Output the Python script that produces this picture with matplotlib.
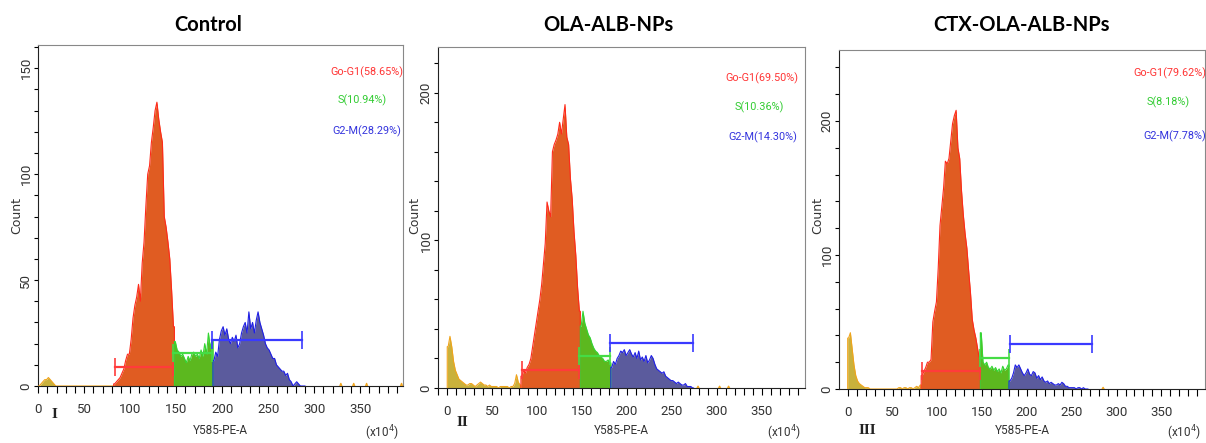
import matplotlib
matplotlib.use("Agg")
import matplotlib.pyplot as plt
import numpy as np
from matplotlib.ticker import MultipleLocator

# ── values (bins of 2 channels) ──
titles = ["Control", "OLA-ALB-NPs", "CTX-OLA-ALB-NPs"]
panel_tags = ["I", "II", "III"]
phase_names = ["Go-G1", "S", "G2-M"]

ctrl_pct = ["58.65", "10.94", "28.29"]
ola_pct = ["69.50", "10.36", "14.30"]
ctx_pct = ["79.62", "8.18", "7.78"]

# counts per bin, starting at channel 0
ctrl_counts = [
    0, 1, 2, 3, 3, 4, 3, 2, 1, 0,
    0, 0, 0, 0, 0, 0, 0, 0, 0, 0,
    0, 0, 0, 0, 0, 0, 0, 0, 0, 0,
    0, 0, 0, 0, 0, 0, 0, 0, 0, 0,
    0, 1, 2, 3, 4, 6, 8, 12, 15, 15,
    22, 32, 38, 42, 48, 40, 58, 68, 85, 100,
    104, 115, 122, 130, 134, 126, 120, 115, 80, 75,
    68, 60, 45, 28,
    21, 17, 16, 14, 15, 13, 11, 14, 12, 15, 16, 14, 15, 13, 17, 14, 20, 15, 25, 18, 22,
    12, 16, 14, 22, 26, 28, 24, 27, 22, 20, 23, 21, 24, 18, 20, 25, 28, 30, 25, 35,
    27, 30, 25, 31, 35, 30, 27, 24, 20, 18, 17, 15, 13, 13, 10, 9, 8, 7, 7, 5,
    6, 3, 2, 0, 1, 2, 1, 0, 0, 0,
]
ola_counts = [
    28, 35, 28, 18, 12, 9, 6, 5, 4, 3,
    2, 2, 3, 3, 2, 1, 2, 3, 4, 3,
    2, 2, 1, 2, 1, 1, 1, 1, 0, 1,
    1, 1, 1, 1, 0, 1, 1, 3, 9, 4,
    2, 8, 12, 10, 14, 16, 20, 28, 36, 44,
    52, 60, 70, 84, 98, 126, 120, 116, 160, 165,
    168, 172, 180, 172, 182, 192, 170, 165, 142, 128,
    106, 90, 68, 52,
    42, 52, 44, 40, 36, 34, 30, 27, 25, 24, 22, 21, 20, 18, 18, 19, 17,
    14, 18, 16, 20, 22, 25, 24, 26, 22, 24, 26, 23, 21, 24, 20, 25, 19, 21, 18, 22,
    17, 19, 22, 20, 16, 13, 12, 11, 10, 11, 8, 7, 6, 5, 5, 4, 3, 4, 3, 2,
    2, 3, 1, 1, 1, 0,
]
ctx_counts = [
    38, 42, 30, 18, 10, 6, 4, 3, 2, 1,
    1, 1, 0, 0, 0, 0, 0, 0, 0, 0,
    0, 0, 0, 0, 0, 0, 0, 0, 1, 1,
    0, 1, 1, 0, 1, 1, 0, 1, 2, 1,
    3, 10, 13, 16, 20, 20, 22, 50, 58, 65,
    90, 122, 136, 150, 170, 168, 172, 185, 198, 204,
    208, 180, 172, 148, 130, 116, 105, 88, 72, 52,
    44, 38, 30, 22,
    42, 20, 18, 20, 16, 15, 17, 14, 16, 13, 15, 12, 17, 14, 15, 18,
    6, 8, 12, 18, 16, 18, 15, 12, 10, 12, 15, 11, 10, 13, 12, 8, 10, 7, 9, 6,
    5, 6, 4, 5, 4, 3, 3, 4, 3, 5, 4, 2, 2, 1, 1, 1, 1, 0, 1, 1,
    0, 1, 0, 0,
]

# first channel of G1, S and G2-M
ctrl_gates = [82, 148, 190]
ola_gates = [82, 148, 182]
ctx_gates = [82, 148, 180]

# marker bars: x ends of the three regions and their heights
ctrl_mark_x = [83, 147, 189, 287]
ola_mark_x = [83, 147, 181, 273]
ctx_mark_x = [83, 148, 180, 181, 273]
ctrl_mark_y = [9, 15.5, 21.5]
ola_mark_y = [12.5, 21.7, 30.6]
ctx_mark_y = [13.6, 23, 33.5]

# isolated events to the right of the G2-M peak
ctrl_sparse = [328, 342, 356, 394]
ola_sparse = [278, 302, 312]
ctx_sparse = [284]

BIN = 2
W, H = 1206, 443
FILLS = ["#c9b13c", "#e05c22", "#5cb81f", "#5b5b9d"]
EDGES = ["#f0a41c", "#ff2a1a", "#33d633", "#1f1fe6"]
MARKS = ["#ff3b3b", "#45dc45", "#3a3aff"]
TXT = ["#ff3434", "#33cc33", "#3434dd"]
NARROW = ["Roboto", "DejaVu Sans"]


def fx(x):
    return x / W


def fy(y):
    return 1 - y / H


def draw_panel(ax, counts, gates, mark_x, mark_y, sparse):
    counts = np.asarray(counts, dtype=float)
    ch = np.arange(len(counts)) * BIN
    bounds = [0] + list(gates) + [int(ch[-1] + BIN)]
    for k in range(4):
        i0, i1 = bounds[k] // BIN, bounds[k + 1] // BIN
        seg = counts[i0:i1]
        # bin centres, closed off at the gate boundaries
        xs = np.concatenate([[bounds[k]], ch[i0:i1] + BIN / 2, [bounds[k + 1]]])
        ys = np.concatenate([[seg[0]], seg, [seg[-1]]])
        ax.fill_between(xs, ys, 0, color=FILLS[k], lw=0, zorder=2)
        ax.plot(np.concatenate([[xs[0]], xs, [xs[-1]]]),
                np.concatenate([[0], ys, [0]]),
                color=EDGES[k], lw=0.8, zorder=3)
    for s in sparse:
        ax.plot([s, s + 1, s + 2], [0, 1.2, 0], color=EDGES[0], lw=1, zorder=3)

    # gate markers with end caps
    if len(mark_x) == 4:
        spans = [(mark_x[0], mark_x[1]), (mark_x[1], mark_x[2]), (mark_x[2], mark_x[3])]
    else:
        spans = [(mark_x[0], mark_x[1]), (mark_x[1], mark_x[2]), (mark_x[3], mark_x[4])]
    for (x0, x1), y, c in zip(spans, mark_y, MARKS):
        ax.plot([x0, x1], [y, y], color=c, lw=1.6, zorder=4)
        ax.plot([x0, x1], [y, y], ls="none", marker="|", ms=13, mew=1.2,
                color=c, zorder=4)


fig = plt.figure(figsize=(W / 100, H / 100), dpi=100)

# axes boxes in pixels: left, top, right, bottom
boxes = [(38, 45, 403, 386), (438, 47, 805, 388), (839, 50, 1205, 389)]
xlims = [(-0.3, 396.6), (-10.3, 398), (-9.7, 398.7)]
ylims = [(0, 161), (0, 231), (0, 253)]
ymajor = [50, 100, 100]
yminor = [10, 20, 20]

panels = [
    (ctrl_counts, ctrl_gates, ctrl_mark_x, ctrl_mark_y, ctrl_sparse, ctrl_pct),
    (ola_counts, ola_gates, ola_mark_x, ola_mark_y, ola_sparse, ola_pct),
    (ctx_counts, ctx_gates, ctx_mark_x, ctx_mark_y, ctx_sparse, ctx_pct),
]
title_x = [208, 608, 1022]
# legend text anchors (right edge x, y) per panel
leg_pos = [
    [(403, 72), (387, 100), (401, 131)],
    [(798, 78), (784, 107), (797, 137)],
    [(1206, 73), (1190, 102), (1206, 136)],
]
tag_pos = [(54, 415), (462, 423), (867, 430)]
count_x = [17, 415, 818]

for i, (counts, gates, mx, my, sparse, pct) in enumerate(panels):
    l, t, r, b = boxes[i]
    ax = fig.add_axes([fx(l), fy(b), (r - l) / W, (b - t) / H])
    draw_panel(ax, counts, gates, mx, my, sparse)
    ax.set_xlim(*xlims[i])
    ax.set_ylim(*ylims[i])
    ax.xaxis.set_major_locator(MultipleLocator(50))
    ax.xaxis.set_minor_locator(MultipleLocator(10))
    ax.yaxis.set_major_locator(MultipleLocator(ymajor[i]))
    ax.yaxis.set_minor_locator(MultipleLocator(yminor[i]))
    ax.tick_params(axis="x", which="both", direction="out", length=5,
                   width=0.8, labelsize=9.5, pad=7)
    ax.tick_params(axis="y", which="both", direction="out", length=3,
                   width=0.8, labelsize=9.5, pad=1)
    for lab in ax.get_xticklabels() + ax.get_yticklabels():
        lab.set_family(NARROW)
        lab.set_color("#333333")
    for lab in ax.get_yticklabels():
        lab.set_rotation(90)
        lab.set_va("center")
    for side in ["top", "right"]:
        ax.spines[side].set_color("#888888")
    for side in ["left", "bottom"]:
        ax.spines[side].set_color("#222222")

    fig.text(fx(title_x[i]), fy(25), titles[i], ha="center", va="center",
             fontsize=14.5, fontweight="bold", family="Lato")
    for k in range(3):
        lx, ly = leg_pos[i][k]
        fig.text(fx(lx), fy(ly), f"{phase_names[k]}({pct[k]}%)", ha="right",
                 va="center", fontsize=7.8, color=TXT[k], family=NARROW)
    fig.text(fx(count_x[i]), fy(215), "Count", rotation=90, ha="center",
             va="center", fontsize=9, color="#333333", family="DejaVu Sans")
    fig.text(fx((l + r) / 2), fy(431), "Y585-PE-A", ha="center", va="center",
             fontsize=8.5, color="#333333", family=NARROW)
    fig.text(fx(r - 4), fy(433), "(x10$^4$)", ha="right", va="center",
             fontsize=8.5, color="#333333", family=NARROW)
    tx, ty = tag_pos[i]
    fig.text(fx(tx), fy(ty), panel_tags[i], ha="center", va="center",
             fontsize=11, fontweight="bold", family="Liberation Serif",
             color="#222222")

fig.savefig("out.png", dpi=100)
